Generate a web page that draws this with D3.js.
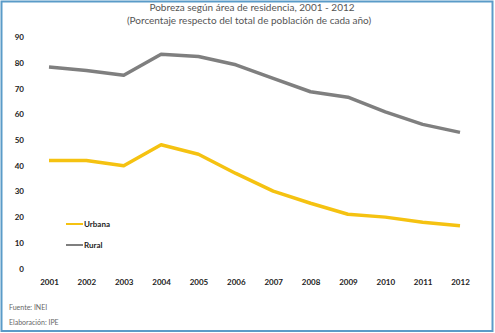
<!DOCTYPE html>
<html>
<head>
<meta charset="utf-8">
<script src="https://cdn.jsdelivr.net/npm/d3@7"></script>
<style>
  body { margin: 0; background: #fff; }
  text { font-family: "Lato", "Liberation Sans", sans-serif; }
</style>
</head>
<body>
<div id="chart-area"></div>
<script>
// Poverty by area of residence, Peru 2001-2012 (% of population)
let years = [2001, 2002, 2003, 2004, 2005, 2006, 2007, 2008, 2009, 2010, 2011, 2012];
let urbana = [42.0, 42.0, 40.0, 48.2, 44.5, 37.0, 30.1, 25.4, 21.1, 20.0, 18.0, 16.6];
let rural = [78.4, 77.1, 75.2, 83.4, 82.5, 79.3, 74.0, 68.8, 66.7, 61.0, 56.1, 53.0];
let yTicks = [0, 10, 20, 30, 40, 50, 60, 70, 80, 90];

let width = 495,
	height = 333;

let svg = d3.select("#chart-area")
	.append("svg")
	.attr("width", width)
	.attr("height", height);

// frame
svg.append("rect")
	.attr("x", 1.5)
	.attr("y", 1.5)
	.attr("width", width - 4)
	.attr("height", height - 3.5)
	.attr("fill", "#fff")
	.attr("stroke", "#5a9bc8")
	.attr("stroke-width", 2);

// titles
svg.append("text")
	.attr("x", 252)
	.attr("y", 11)
	.attr("text-anchor", "middle")
	.attr("font-size", 10)
	.attr("fill", "#555")
	.text("Pobreza según área de residencia, 2001 - 2012");
svg.append("text")
	.attr("x", 249)
	.attr("y", 24)
	.attr("text-anchor", "middle")
	.attr("font-size", 10)
	.attr("fill", "#555")
	.text("(Porcentaje respecto del total de población de cada año)");

let x = d3.scalePoint()
	.domain(years)
	.range([49, 460]);

let y = d3.scaleLinear()
	.domain([0, 90])
	.range([268.5, 37.3]);

let yAxis = d3.axisLeft(y)
	.tickValues(yTicks)
	.tickSize(0)
	.tickPadding(0);

svg.append("g")
	.attr("class", "axis y-axis")
	.attr("transform", "translate(24,0)")
	.call(yAxis)
	.call(g => g.select(".domain").remove())
	.selectAll("text")
	.attr("font-size", 8)
	.attr("font-weight", "bold")
	.attr("fill", "#222");

let xAxis = d3.axisBottom(x)
	.tickSize(0)
	.tickPadding(0);

svg.append("g")
	.attr("class", "axis x-axis")
	.attr("transform", "translate(0,279)")
	.call(xAxis)
	.call(g => g.select(".domain").remove())
	.selectAll("text")
	.attr("font-size", 8)
	.attr("font-weight", "bold")
	.attr("fill", "#222");

let line = d3.line()
	.x((d, i) => x(years[i]))
	.y(d => y(d));

let series = [
	{ name: "Urbana", values: urbana, color: "#f5c211" },
	{ name: "Rural", values: rural, color: "#7f7f7f" }
];

svg.selectAll("path.series")
	.data(series)
	.enter()
	.append("path")
	.attr("class", "series")
	.attr("d", d => line(d.values))
	.attr("fill", "none")
	.attr("stroke", d => d.color)
	.attr("stroke-width", 3.5)
	.attr("stroke-linejoin", "round");

// legend
let legend = svg.selectAll("g.legend")
	.data(series)
	.enter()
	.append("g")
	.attr("class", "legend")
	.attr("transform", (d, i) => "translate(66," + (224 + i * 21) + ")");

legend.append("line")
	.attr("x1", 0)
	.attr("x2", 17)
	.attr("stroke", d => d.color)
	.attr("stroke-width", 2);

legend.append("text")
	.attr("x", 18)
	.attr("dy", "0.35em")
	.attr("font-size", 8)
	.attr("font-weight", "bold")
	.attr("fill", "#222")
	.text(d => d.name);

// source notes
svg.append("text")
	.attr("x", 9)
	.attr("y", 310)
	.attr("font-size", 7)
	.attr("fill", "#666")
	.text("Fuente: INEI");
svg.append("text")
	.attr("x", 9)
	.attr("y", 325)
	.attr("font-size", 7)
	.attr("fill", "#666")
	.text("Elaboración: IPE");
</script>
</body>
</html>
